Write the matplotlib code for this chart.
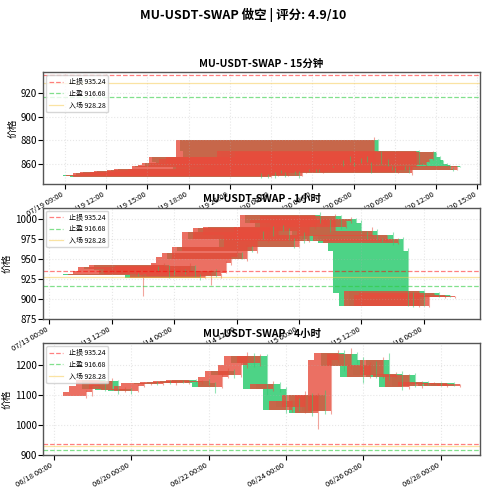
import matplotlib.pyplot as plt
import matplotlib.dates as mdates
import numpy as np
import pandas as pd

plt.rcParams['font.family'] = ['Noto Sans CJK SC', 'DejaVu Sans']
plt.rcParams['axes.unicode_minus'] = False

symbol = "MU-USDT-SWAP"
stop_loss = 935.24
take_profit = 916.68
entry = 928.28

# 15分钟
t15 = pd.date_range("2025-07-19 23:15", periods=59, freq="15min")
c15 = [849.5, 850.5, 849, 852, 851, 853, 852, 851, 853, 854, 852, 850, 853, 855, 854,
       856, 855, 853, 854, 856, 858, 857, 859, 861, 858, 866, 862, 860, 864, 861,
       866, 862, 855, 880, 871, 862, 863, 858, 856, 853, 855, 858, 856, 852, 857,
       871, 861, 859, 862, 864, 870, 866, 863, 860, 859, 856, 855, 858, 857]
up15 = [1, 0, 1, 0, 1, 0, 2, 1, 0, 1, 0, 2, 1, 0, 1, 3, 0, 1, 0, 2, 1, 0, 1, 0, 2,
        0, 1, 0, 2, 1, 0, 1, 0, 3, 1, 0, 2, 1, 0, 1, 0, 1, 0, 2, 1, 0, 1, 0, 1, 0,
        1, 0, 1, 0, 1, 0, 1, 0, 0]
dn15 = [1, 0, 1, 0, 3, 1, 0, 2, 1, 0, 1, 2, 0, 1, 0, 1, 2, 0, 1, 0, 1, 0, 2, 1, 0,
        1, 0, 2, 1, 0, 1, 0, 3, 1, 0, 2, 1, 0, 1, 0, 1, 0, 1, 0, 1, 0, 1, 0, 1, 0,
        1, 0, 1, 0, 1, 0, 1, 0, 0]

# 1小时
t1h = pd.date_range("2025-07-13 17:00", periods=63, freq="1h")
c1h = [930, 931, 935, 940, 938, 943, 936,
       932, 938, 935, 941, 932, 926, 930, 935, 929, 933, 945, 952, 957, 950, 965,
       960, 983, 975, 988, 980, 990, 985, 975, 965,
       980, 972, 990, 1004, 995, 998, 985, 1003, 990, 997, 1000, 995, 985, 978,
       985, 975, 972, 980, 970, 975, 960, 908, 892, 910,
       892, 905, 908, 903, 905, 903, 904, 904]
up1h = [2, 1, 0, 3, 1, 2, 0, 1, 2, 0, 4, 1, 0, 2, 1, 3, 0, 2, 1, 4, 2, 3, 1, 0, 2,
        1, 3, 0, 2, 4, 1, 0, 3, 2, 1, 4, 0, 2, 3, 1, 0, 2, 1, 3, 0, 5, 2, 1, 0, 3,
        1, 2, 4, 1, 0, 2, 1, 0, 1, 0, 1, 0, 0]
dn1h = [1, 26, 2, 0, 3, 1, 9, 2, 0, 3, 1, 4, 2, 0, 12, 1, 3, 0, 2, 1, 0, 3, 1, 2, 0,
        4, 1, 3, 0, 2, 1, 0, 2, 1, 3, 0, 2, 1, 0, 3, 1, 2, 0, 1, 3, 0, 2, 1, 0, 2,
        1, 0, 16, 2, 1, 0, 2, 1, 0, 1, 0, 1, 0]

# 4小时
t4h = pd.date_range("2025-06-18 20:00", periods=59, freq="4h")
c4h = [1110,
       1130, 1150, 1120, 1145, 1115, 1120,
       1112, 1130, 1138, 1140, 1135, 1142,
       1138, 1145, 1140, 1148, 1142, 1147,
       1140, 1125, 1160, 1180, 1165, 1200,
       1230, 1205, 1230, 1120, 1135, 1120,
       1050, 1080, 1060, 1100, 1040, 1100,
       1045, 1215, 1240, 1195, 1235, 1215,
       1160, 1200, 1165, 1215, 1160, 1170,
       1125, 1165, 1130, 1142, 1135, 1140,
       1130, 1138, 1130, 1135]
up4h = [5, 8, 6, 3, 10, 4, 5, 2, 6, 4, 3, 5, 2, 6, 3, 4, 2, 5, 3, 6, 4, 8, 10, 5, 18,
        12, 8, 6, 5, 10, 8, 6, 4, 8, 12, 5, 6, 15, 12, 10, 8, 20, 6, 10, 8, 12, 10,
        25, 6, 8, 4, 6, 3, 4, 2, 3, 2, 3, 2]
dn4h = [5, 15, 8, 6, 4, 12, 5, 8, 4, 3, 5, 2, 4, 3, 5, 2, 4, 3, 5, 6, 20, 4, 6, 8,
        5, 10, 12, 8, 20, 6, 10, 12, 8, 15, 20, 10, 55, 8, 10, 6, 15, 8, 12, 20, 6,
        10, 8, 10, 6, 8, 5, 4, 6, 3, 4, 2, 3, 2, 3]

panels = [
    ("15分钟", t15, c15, up15, dn15, 851),
    ("1小时", t1h, c1h, up1h, dn1h, 931),
    ("4小时", t4h, c4h, up4h, dn4h, 1095),
]

red = "#e74c3c"
green = "#2ecc71"

fig, axes = plt.subplots(3, 1, figsize=(4.87, 5.0), dpi=100)
fig.suptitle(f"{symbol} 做空 | 评分: 4.9/10", fontsize=9, fontweight="bold", y=0.985)

for ax, (name, times, closes, ups, dns, first_open) in zip(axes, panels):
    closes = np.array(closes, dtype=float)
    opens = np.concatenate([[first_open], closes[:-1]])
    highs = np.maximum(opens, closes) + np.array(ups)
    lows = np.minimum(opens, closes) - np.array(dns)
    x = mdates.date2num(times.to_pydatetime())
    rise = closes >= opens
    fall = ~rise
    width = -0.6

    ax.vlines(x[fall], lows[fall], highs[fall], color=green, linewidth=0.8, alpha=0.5)
    ax.vlines(x[rise], lows[rise], highs[rise], color=red, linewidth=0.8, alpha=0.5)
    ax.bar(x[fall], closes[fall] - opens[fall], width, bottom=opens[fall],
           color=green, alpha=0.85, align="edge")
    ax.bar(x[rise], closes[rise] - opens[rise], width, bottom=opens[rise],
           color=red, alpha=0.8, align="edge")

    ax.axhline(stop_loss, color="red", linestyle="--", alpha=0.5, linewidth=0.9, label=f"止损 {stop_loss}")
    ax.axhline(take_profit, color="#2ecc40", linestyle="--", alpha=0.6, linewidth=0.9, label=f"止盈 {take_profit}")
    ax.axhline(entry, color="#f7c948", linestyle="-", alpha=0.5, linewidth=0.9, label=f"入场 {entry}")

    ax.set_title(f"{symbol} - {name}", fontsize=7.5, fontweight="bold", pad=4)
    ax.set_ylabel("价格", fontsize=7, labelpad=2)
    ax.grid(True, alpha=0.3, linestyle=":")
    ax.legend(loc="upper left", fontsize=5, framealpha=0.8)
    ax.xaxis_date()
    ax.xaxis.set_major_formatter(mdates.DateFormatter("%m/%d %H:%M"))
    ax.tick_params(axis="x", labelsize=5.5, rotation=30, pad=1)
    ax.tick_params(axis="y", labelsize=7, pad=1)
    for lbl in ax.get_xticklabels():
        lbl.set_ha("right")
    for s in ax.spines.values():
        s.set_color("#555555")
        s.set_linewidth(1.0)

axes[0].xaxis.set_major_locator(mdates.HourLocator(byhour=[0, 3, 6, 9, 12, 15, 18, 21]))
axes[1].xaxis.set_major_locator(mdates.HourLocator(byhour=[0, 12]))
axes[2].xaxis.set_major_locator(mdates.DayLocator(interval=2))
axes[0].set_ylim(843, 938)
axes[0].set_yticks([860, 880, 900, 920])
axes[1].set_yticks([875, 900, 925, 950, 975, 1000])
axes[2].set_yticks([900, 1000, 1100, 1200])

fig.subplots_adjust(left=0.088, right=0.986, top=0.856, bottom=0.09, hspace=0.21)
fig.savefig("out.png")
